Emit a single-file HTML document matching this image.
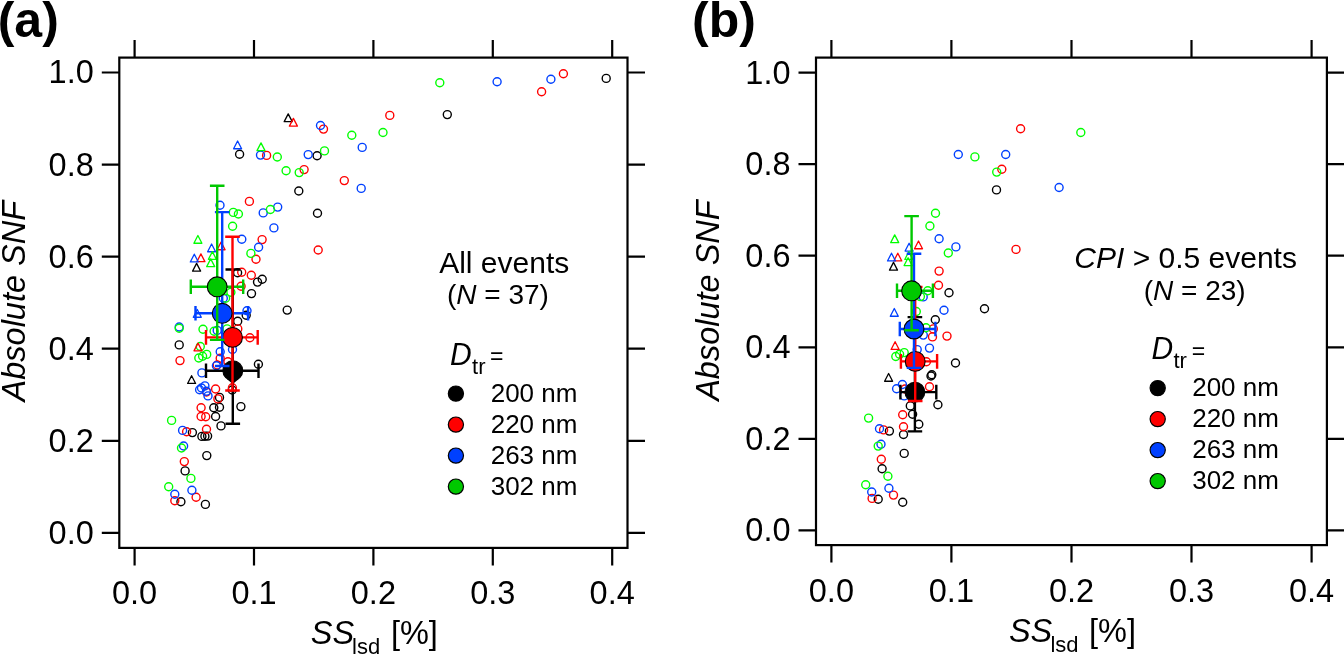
<!DOCTYPE html><html><head><meta charset="utf-8"><title>Absolute SNF vs SSlsd</title><style>html,body{margin:0;padding:0;background:#fff;width:1344px;height:654px;overflow:hidden}svg{display:block;will-change:transform}text{font-family:"Liberation Sans",sans-serif;fill:#000}.t{font-size:32.5px}.it{font-style:italic}.sub{font-size:22px;font-style:normal}.pl{font-size:50px;font-weight:bold}.l1{font-size:30px}.l2{font-size:28px}.l3{font-size:26px}.s2{font-size:22px}.eq{font-size:23px}</style></head><body>
<svg width="1344" height="654" viewBox="0 0 1344 654">
<rect width="1344" height="654" fill="#fff"/>
<circle cx="606.2" cy="78.4" r="4.0" fill="none" stroke="#000000" stroke-width="1.4"/>
<circle cx="447.3" cy="114.6" r="4.0" fill="none" stroke="#000000" stroke-width="1.4"/>
<circle cx="239.6" cy="154.3" r="4.0" fill="none" stroke="#000000" stroke-width="1.4"/>
<circle cx="317.1" cy="155.8" r="4.0" fill="none" stroke="#000000" stroke-width="1.4"/>
<circle cx="298.8" cy="191.0" r="4.0" fill="none" stroke="#000000" stroke-width="1.4"/>
<circle cx="317.5" cy="213.2" r="4.0" fill="none" stroke="#000000" stroke-width="1.4"/>
<circle cx="237.6" cy="272.8" r="4.0" fill="none" stroke="#000000" stroke-width="1.4"/>
<circle cx="262.2" cy="279.2" r="4.0" fill="none" stroke="#000000" stroke-width="1.4"/>
<circle cx="257.5" cy="282.1" r="4.0" fill="none" stroke="#000000" stroke-width="1.4"/>
<circle cx="251.5" cy="293.6" r="4.0" fill="none" stroke="#000000" stroke-width="1.4"/>
<circle cx="287.2" cy="310.1" r="4.0" fill="none" stroke="#000000" stroke-width="1.4"/>
<circle cx="246.2" cy="315.2" r="4.0" fill="none" stroke="#000000" stroke-width="1.4"/>
<circle cx="237.7" cy="321.2" r="4.0" fill="none" stroke="#000000" stroke-width="1.4"/>
<circle cx="179.2" cy="344.9" r="4.0" fill="none" stroke="#000000" stroke-width="1.4"/>
<circle cx="258.4" cy="364.2" r="4.0" fill="none" stroke="#000000" stroke-width="1.4"/>
<circle cx="232.2" cy="390.0" r="4.0" fill="none" stroke="#000000" stroke-width="1.4"/>
<circle cx="219.5" cy="397.4" r="4.0" fill="none" stroke="#000000" stroke-width="1.4"/>
<circle cx="213.8" cy="407.8" r="4.0" fill="none" stroke="#000000" stroke-width="1.4"/>
<circle cx="219.5" cy="407.3" r="4.0" fill="none" stroke="#000000" stroke-width="1.4"/>
<circle cx="240.9" cy="406.6" r="4.0" fill="none" stroke="#000000" stroke-width="1.4"/>
<circle cx="215.6" cy="416.5" r="4.0" fill="none" stroke="#000000" stroke-width="1.4"/>
<circle cx="221.0" cy="425.9" r="4.0" fill="none" stroke="#000000" stroke-width="1.4"/>
<circle cx="192.4" cy="432.6" r="4.0" fill="none" stroke="#000000" stroke-width="1.4"/>
<circle cx="201.9" cy="436.4" r="4.0" fill="none" stroke="#000000" stroke-width="1.4"/>
<circle cx="204.9" cy="436.2" r="4.0" fill="none" stroke="#000000" stroke-width="1.4"/>
<circle cx="207.6" cy="436.1" r="4.0" fill="none" stroke="#000000" stroke-width="1.4"/>
<circle cx="206.8" cy="455.6" r="4.0" fill="none" stroke="#000000" stroke-width="1.4"/>
<circle cx="185.1" cy="470.9" r="4.0" fill="none" stroke="#000000" stroke-width="1.4"/>
<circle cx="180.9" cy="501.8" r="4.0" fill="none" stroke="#000000" stroke-width="1.4"/>
<circle cx="205.4" cy="504.4" r="4.0" fill="none" stroke="#000000" stroke-width="1.4"/>
<circle cx="563.4" cy="73.8" r="4.0" fill="none" stroke="#ff0000" stroke-width="1.4"/>
<circle cx="541.6" cy="91.8" r="4.0" fill="none" stroke="#ff0000" stroke-width="1.4"/>
<circle cx="389.8" cy="115.4" r="4.0" fill="none" stroke="#ff0000" stroke-width="1.4"/>
<circle cx="323.5" cy="129.1" r="4.0" fill="none" stroke="#ff0000" stroke-width="1.4"/>
<circle cx="266.6" cy="155.4" r="4.0" fill="none" stroke="#ff0000" stroke-width="1.4"/>
<circle cx="304.1" cy="169.6" r="4.0" fill="none" stroke="#ff0000" stroke-width="1.4"/>
<circle cx="344.3" cy="180.6" r="4.0" fill="none" stroke="#ff0000" stroke-width="1.4"/>
<circle cx="249.4" cy="201.4" r="4.0" fill="none" stroke="#ff0000" stroke-width="1.4"/>
<circle cx="262.1" cy="239.6" r="4.0" fill="none" stroke="#ff0000" stroke-width="1.4"/>
<circle cx="318.2" cy="250.0" r="4.0" fill="none" stroke="#ff0000" stroke-width="1.4"/>
<circle cx="256.0" cy="259.2" r="4.0" fill="none" stroke="#ff0000" stroke-width="1.4"/>
<circle cx="241.7" cy="272.2" r="4.0" fill="none" stroke="#ff0000" stroke-width="1.4"/>
<circle cx="251.3" cy="275.3" r="4.0" fill="none" stroke="#ff0000" stroke-width="1.4"/>
<circle cx="241.1" cy="286.2" r="4.0" fill="none" stroke="#ff0000" stroke-width="1.4"/>
<circle cx="237.8" cy="328.9" r="4.0" fill="none" stroke="#ff0000" stroke-width="1.4"/>
<circle cx="249.9" cy="337.7" r="4.0" fill="none" stroke="#ff0000" stroke-width="1.4"/>
<circle cx="220.2" cy="358.3" r="4.0" fill="none" stroke="#ff0000" stroke-width="1.4"/>
<circle cx="227.9" cy="361.7" r="4.0" fill="none" stroke="#ff0000" stroke-width="1.4"/>
<circle cx="217.2" cy="365.0" r="4.0" fill="none" stroke="#ff0000" stroke-width="1.4"/>
<circle cx="180.0" cy="360.6" r="4.0" fill="none" stroke="#ff0000" stroke-width="1.4"/>
<circle cx="232.4" cy="387.8" r="4.0" fill="none" stroke="#ff0000" stroke-width="1.4"/>
<circle cx="206.5" cy="392.0" r="4.0" fill="none" stroke="#ff0000" stroke-width="1.4"/>
<circle cx="215.6" cy="389.0" r="4.0" fill="none" stroke="#ff0000" stroke-width="1.4"/>
<circle cx="217.9" cy="398.9" r="4.0" fill="none" stroke="#ff0000" stroke-width="1.4"/>
<circle cx="201.1" cy="407.8" r="4.0" fill="none" stroke="#ff0000" stroke-width="1.4"/>
<circle cx="201.1" cy="416.5" r="4.0" fill="none" stroke="#ff0000" stroke-width="1.4"/>
<circle cx="205.7" cy="416.8" r="4.0" fill="none" stroke="#ff0000" stroke-width="1.4"/>
<circle cx="206.5" cy="429.2" r="4.0" fill="none" stroke="#ff0000" stroke-width="1.4"/>
<circle cx="186.6" cy="431.7" r="4.0" fill="none" stroke="#ff0000" stroke-width="1.4"/>
<circle cx="184.3" cy="461.6" r="4.0" fill="none" stroke="#ff0000" stroke-width="1.4"/>
<circle cx="196.1" cy="497.2" r="4.0" fill="none" stroke="#ff0000" stroke-width="1.4"/>
<circle cx="174.8" cy="500.7" r="4.0" fill="none" stroke="#ff0000" stroke-width="1.4"/>
<circle cx="497.1" cy="81.8" r="4.0" fill="none" stroke="#0040ff" stroke-width="1.4"/>
<circle cx="550.9" cy="79.3" r="4.0" fill="none" stroke="#0040ff" stroke-width="1.4"/>
<circle cx="320.5" cy="125.5" r="4.0" fill="none" stroke="#0040ff" stroke-width="1.4"/>
<circle cx="260.5" cy="155.1" r="4.0" fill="none" stroke="#0040ff" stroke-width="1.4"/>
<circle cx="308.2" cy="154.6" r="4.0" fill="none" stroke="#0040ff" stroke-width="1.4"/>
<circle cx="362.2" cy="147.4" r="4.0" fill="none" stroke="#0040ff" stroke-width="1.4"/>
<circle cx="361.2" cy="188.4" r="4.0" fill="none" stroke="#0040ff" stroke-width="1.4"/>
<circle cx="220.0" cy="205.2" r="4.0" fill="none" stroke="#0040ff" stroke-width="1.4"/>
<circle cx="263.2" cy="212.9" r="4.0" fill="none" stroke="#0040ff" stroke-width="1.4"/>
<circle cx="277.7" cy="207.1" r="4.0" fill="none" stroke="#0040ff" stroke-width="1.4"/>
<circle cx="273.9" cy="227.9" r="4.0" fill="none" stroke="#0040ff" stroke-width="1.4"/>
<circle cx="241.8" cy="239.3" r="4.0" fill="none" stroke="#0040ff" stroke-width="1.4"/>
<circle cx="258.6" cy="247.3" r="4.0" fill="none" stroke="#0040ff" stroke-width="1.4"/>
<circle cx="223.3" cy="298.3" r="4.0" fill="none" stroke="#0040ff" stroke-width="1.4"/>
<circle cx="247.0" cy="310.8" r="4.0" fill="none" stroke="#0040ff" stroke-width="1.4"/>
<circle cx="179.2" cy="327.0" r="4.0" fill="none" stroke="#0040ff" stroke-width="1.4"/>
<circle cx="217.2" cy="330.4" r="4.0" fill="none" stroke="#0040ff" stroke-width="1.4"/>
<circle cx="220.2" cy="351.8" r="4.0" fill="none" stroke="#0040ff" stroke-width="1.4"/>
<circle cx="232.5" cy="349.5" r="4.0" fill="none" stroke="#0040ff" stroke-width="1.4"/>
<circle cx="216.4" cy="365.8" r="4.0" fill="none" stroke="#0040ff" stroke-width="1.4"/>
<circle cx="201.9" cy="372.9" r="4.0" fill="none" stroke="#0040ff" stroke-width="1.4"/>
<circle cx="199.6" cy="389.8" r="4.0" fill="none" stroke="#0040ff" stroke-width="1.4"/>
<circle cx="201.5" cy="388.0" r="4.0" fill="none" stroke="#0040ff" stroke-width="1.4"/>
<circle cx="204.9" cy="385.9" r="4.0" fill="none" stroke="#0040ff" stroke-width="1.4"/>
<circle cx="206.5" cy="391.3" r="4.0" fill="none" stroke="#0040ff" stroke-width="1.4"/>
<circle cx="208.0" cy="395.9" r="4.0" fill="none" stroke="#0040ff" stroke-width="1.4"/>
<circle cx="182.6" cy="430.4" r="4.0" fill="none" stroke="#0040ff" stroke-width="1.4"/>
<circle cx="183.6" cy="446.0" r="4.0" fill="none" stroke="#0040ff" stroke-width="1.4"/>
<circle cx="191.9" cy="490.3" r="4.0" fill="none" stroke="#0040ff" stroke-width="1.4"/>
<circle cx="174.8" cy="494.2" r="4.0" fill="none" stroke="#0040ff" stroke-width="1.4"/>
<circle cx="439.8" cy="82.7" r="4.0" fill="none" stroke="#00ff00" stroke-width="1.4"/>
<circle cx="383.0" cy="132.5" r="4.0" fill="none" stroke="#00ff00" stroke-width="1.4"/>
<circle cx="351.8" cy="135.2" r="4.0" fill="none" stroke="#00ff00" stroke-width="1.4"/>
<circle cx="277.3" cy="157.0" r="4.0" fill="none" stroke="#00ff00" stroke-width="1.4"/>
<circle cx="324.5" cy="150.9" r="4.0" fill="none" stroke="#00ff00" stroke-width="1.4"/>
<circle cx="286.1" cy="170.8" r="4.0" fill="none" stroke="#00ff00" stroke-width="1.4"/>
<circle cx="299.2" cy="172.6" r="4.0" fill="none" stroke="#00ff00" stroke-width="1.4"/>
<circle cx="233.3" cy="212.4" r="4.0" fill="none" stroke="#00ff00" stroke-width="1.4"/>
<circle cx="238.4" cy="214.0" r="4.0" fill="none" stroke="#00ff00" stroke-width="1.4"/>
<circle cx="270.4" cy="209.5" r="4.0" fill="none" stroke="#00ff00" stroke-width="1.4"/>
<circle cx="232.6" cy="226.3" r="4.0" fill="none" stroke="#00ff00" stroke-width="1.4"/>
<circle cx="250.9" cy="253.4" r="4.0" fill="none" stroke="#00ff00" stroke-width="1.4"/>
<circle cx="230.9" cy="292.2" r="4.0" fill="none" stroke="#00ff00" stroke-width="1.4"/>
<circle cx="225.6" cy="298.3" r="4.0" fill="none" stroke="#00ff00" stroke-width="1.4"/>
<circle cx="179.2" cy="328.3" r="4.0" fill="none" stroke="#00ff00" stroke-width="1.4"/>
<circle cx="203.0" cy="329.3" r="4.0" fill="none" stroke="#00ff00" stroke-width="1.4"/>
<circle cx="214.1" cy="331.2" r="4.0" fill="none" stroke="#00ff00" stroke-width="1.4"/>
<circle cx="227.1" cy="328.9" r="4.0" fill="none" stroke="#00ff00" stroke-width="1.4"/>
<circle cx="200.3" cy="346.5" r="4.0" fill="none" stroke="#00ff00" stroke-width="1.4"/>
<circle cx="198.8" cy="358.0" r="4.0" fill="none" stroke="#00ff00" stroke-width="1.4"/>
<circle cx="202.6" cy="356.3" r="4.0" fill="none" stroke="#00ff00" stroke-width="1.4"/>
<circle cx="206.7" cy="354.4" r="4.0" fill="none" stroke="#00ff00" stroke-width="1.4"/>
<circle cx="171.6" cy="420.4" r="4.0" fill="none" stroke="#00ff00" stroke-width="1.4"/>
<circle cx="181.5" cy="448.0" r="4.0" fill="none" stroke="#00ff00" stroke-width="1.4"/>
<circle cx="190.9" cy="478.4" r="4.0" fill="none" stroke="#00ff00" stroke-width="1.4"/>
<circle cx="168.7" cy="486.8" r="4.0" fill="none" stroke="#00ff00" stroke-width="1.4"/>
<path d="M288.20 113.90L292.20 121.65L284.20 121.65Z" fill="none" stroke="#000000" stroke-width="1.3" stroke-linejoin="round"/>
<path d="M196.60 263.40L200.60 271.15L192.60 271.15Z" fill="none" stroke="#000000" stroke-width="1.3" stroke-linejoin="round"/>
<path d="M191.60 375.70L195.60 383.45L187.60 383.45Z" fill="none" stroke="#000000" stroke-width="1.3" stroke-linejoin="round"/>
<path d="M293.40 118.40L297.40 126.15L289.40 126.15Z" fill="none" stroke="#ff0000" stroke-width="1.3" stroke-linejoin="round"/>
<path d="M221.10 242.00L225.10 249.75L217.10 249.75Z" fill="none" stroke="#ff0000" stroke-width="1.3" stroke-linejoin="round"/>
<path d="M200.90 253.90L204.90 261.65L196.90 261.65Z" fill="none" stroke="#ff0000" stroke-width="1.3" stroke-linejoin="round"/>
<path d="M198.00 343.10L202.00 350.85L194.00 350.85Z" fill="none" stroke="#ff0000" stroke-width="1.3" stroke-linejoin="round"/>
<path d="M237.60 141.00L241.60 148.75L233.60 148.75Z" fill="none" stroke="#0040ff" stroke-width="1.3" stroke-linejoin="round"/>
<path d="M211.60 244.00L215.60 251.75L207.60 251.75Z" fill="none" stroke="#0040ff" stroke-width="1.3" stroke-linejoin="round"/>
<path d="M194.30 254.20L198.30 261.95L190.30 261.95Z" fill="none" stroke="#0040ff" stroke-width="1.3" stroke-linejoin="round"/>
<path d="M197.30 309.50L201.30 317.25L193.30 317.25Z" fill="none" stroke="#0040ff" stroke-width="1.3" stroke-linejoin="round"/>
<path d="M261.00 142.90L265.00 150.65L257.00 150.65Z" fill="none" stroke="#00ff00" stroke-width="1.3" stroke-linejoin="round"/>
<path d="M197.90 235.50L201.90 243.25L193.90 243.25Z" fill="none" stroke="#00ff00" stroke-width="1.3" stroke-linejoin="round"/>
<path d="M212.40 251.60L216.40 259.35L208.40 259.35Z" fill="none" stroke="#00ff00" stroke-width="1.3" stroke-linejoin="round"/>
<path d="M210.70 258.90L214.70 266.65L206.70 266.65Z" fill="none" stroke="#00ff00" stroke-width="1.3" stroke-linejoin="round"/>
<path d="M206.0 370.7H258.5M206.0 363.4V378.0M258.5 363.4V378.0" stroke="#000000" stroke-width="2.4" fill="none"/>
<path d="M206.0 337.4H257.7M206.0 330.1V344.7M257.7 330.1V344.7" stroke="#ff0000" stroke-width="2.4" fill="none"/>
<path d="M195.5 313.3H248.1M195.5 306.0V320.6M248.1 306.0V320.6" stroke="#0040ff" stroke-width="2.4" fill="none"/>
<path d="M190.8 286.8H243.2M190.8 279.5V294.1M243.2 279.5V294.1" stroke="#00c800" stroke-width="2.4" fill="none"/>
<path d="M232.8 269.5V423.7M225.5 269.5H240.1M225.5 423.7H240.1" stroke="#000000" stroke-width="2.4" fill="none"/>
<circle cx="232.8" cy="370.7" r="9.9" fill="#000000" stroke="#000" stroke-width="1.1"/>
<path d="M226.8 379.0L238.8 379.0L232.8 384.1Z" fill="#000"/>
<path d="M232.5 236.7V390.5M225.2 236.7H239.8M225.2 390.5H239.8" stroke="#ff0000" stroke-width="2.4" fill="none"/>
<circle cx="232.5" cy="337.4" r="9.9" fill="#ff0000" stroke="#000" stroke-width="1.1"/>
<path d="M222.2 212.1V366.0M214.9 212.1H229.5M214.9 366.0H229.5" stroke="#0040ff" stroke-width="2.4" fill="none"/>
<circle cx="222.2" cy="313.3" r="9.9" fill="#0040ff" stroke="#000" stroke-width="1.1"/>
<path d="M217.2 185.8V339.9M209.9 185.8H224.5M209.9 339.9H224.5" stroke="#00c800" stroke-width="2.4" fill="none"/>
<circle cx="217.2" cy="286.8" r="9.9" fill="#00c800" stroke="#000" stroke-width="1.1"/>
<rect x="119.3" y="57.6" width="508.2" height="490.3" fill="none" stroke="#000" stroke-width="2.2"/>
<path d="M134.6 547.9v17.5M134.6 57.6v-17.5M254.0 547.9v17.5M254.0 57.6v-17.5M373.4 547.9v17.5M373.4 57.6v-17.5M492.8 547.9v17.5M492.8 57.6v-17.5M612.2 547.9v17.5M612.2 57.6v-17.5M119.3 532.9h-17.5M627.5 532.9h17.5M119.3 440.8h-17.5M627.5 440.8h17.5M119.3 348.7h-17.5M627.5 348.7h17.5M119.3 256.7h-17.5M627.5 256.7h17.5M119.3 164.6h-17.5M627.5 164.6h17.5M119.3 72.5h-17.5M627.5 72.5h17.5" stroke="#000" stroke-width="2.2" fill="none"/>
<text x="134.6" y="603.8" class="t" text-anchor="middle">0.0</text>
<text x="254.0" y="603.8" class="t" text-anchor="middle">0.1</text>
<text x="373.4" y="603.8" class="t" text-anchor="middle">0.2</text>
<text x="492.8" y="603.8" class="t" text-anchor="middle">0.3</text>
<text x="612.2" y="603.8" class="t" text-anchor="middle">0.4</text>
<text x="93.8" y="543.8" class="t" text-anchor="end">0.0</text>
<text x="93.8" y="451.7" class="t" text-anchor="end">0.2</text>
<text x="93.8" y="359.6" class="t" text-anchor="end">0.4</text>
<text x="93.8" y="267.6" class="t" text-anchor="end">0.6</text>
<text x="93.8" y="175.5" class="t" text-anchor="end">0.8</text>
<text x="93.8" y="83.4" class="t" text-anchor="end">1.0</text>
<text transform="translate(25.0,301.2) rotate(-90)" class="t it" text-anchor="middle">Absolute SNF</text>
<text transform="translate(310.8,644.0) scale(1,1.04)" class="t it">SS</text>
<text x="352.1" y="653.7" class="sub">lsd</text>
<text x="390.9" y="644.0" class="t">[%]</text>
<text x="-2.3" y="37.2" class="pl">(a)</text>
<circle cx="996.5" cy="189.9" r="4.0" fill="none" stroke="#000000" stroke-width="1.4"/>
<circle cx="949.0" cy="292.8" r="4.0" fill="none" stroke="#000000" stroke-width="1.4"/>
<circle cx="984.5" cy="308.7" r="4.0" fill="none" stroke="#000000" stroke-width="1.4"/>
<circle cx="935.3" cy="319.8" r="4.0" fill="none" stroke="#000000" stroke-width="1.4"/>
<circle cx="955.5" cy="363.0" r="4.0" fill="none" stroke="#000000" stroke-width="1.4"/>
<circle cx="931.0" cy="376.0" r="4.0" fill="none" stroke="#000000" stroke-width="1.4"/>
<circle cx="931.8" cy="374.8" r="4.0" fill="none" stroke="#000000" stroke-width="1.4"/>
<circle cx="937.9" cy="404.7" r="4.0" fill="none" stroke="#000000" stroke-width="1.4"/>
<circle cx="910.3" cy="405.9" r="4.0" fill="none" stroke="#000000" stroke-width="1.4"/>
<circle cx="912.6" cy="414.3" r="4.0" fill="none" stroke="#000000" stroke-width="1.4"/>
<circle cx="918.8" cy="424.2" r="4.0" fill="none" stroke="#000000" stroke-width="1.4"/>
<circle cx="889.4" cy="431.1" r="4.0" fill="none" stroke="#000000" stroke-width="1.4"/>
<circle cx="903.5" cy="434.5" r="4.0" fill="none" stroke="#000000" stroke-width="1.4"/>
<circle cx="904.2" cy="453.4" r="4.0" fill="none" stroke="#000000" stroke-width="1.4"/>
<circle cx="882.1" cy="468.8" r="4.0" fill="none" stroke="#000000" stroke-width="1.4"/>
<circle cx="878.2" cy="499.3" r="4.0" fill="none" stroke="#000000" stroke-width="1.4"/>
<circle cx="902.7" cy="502.2" r="4.0" fill="none" stroke="#000000" stroke-width="1.4"/>
<circle cx="1020.6" cy="128.8" r="4.0" fill="none" stroke="#ff0000" stroke-width="1.4"/>
<circle cx="1001.8" cy="169.2" r="4.0" fill="none" stroke="#ff0000" stroke-width="1.4"/>
<circle cx="1016.0" cy="249.4" r="4.0" fill="none" stroke="#ff0000" stroke-width="1.4"/>
<circle cx="939.1" cy="271.1" r="4.0" fill="none" stroke="#ff0000" stroke-width="1.4"/>
<circle cx="938.5" cy="285.2" r="4.0" fill="none" stroke="#ff0000" stroke-width="1.4"/>
<circle cx="933.3" cy="328.9" r="4.0" fill="none" stroke="#ff0000" stroke-width="1.4"/>
<circle cx="932.5" cy="336.9" r="4.0" fill="none" stroke="#ff0000" stroke-width="1.4"/>
<circle cx="947.0" cy="336.1" r="4.0" fill="none" stroke="#ff0000" stroke-width="1.4"/>
<circle cx="926.4" cy="361.8" r="4.0" fill="none" stroke="#ff0000" stroke-width="1.4"/>
<circle cx="929.5" cy="386.8" r="4.0" fill="none" stroke="#ff0000" stroke-width="1.4"/>
<circle cx="905.0" cy="389.0" r="4.0" fill="none" stroke="#ff0000" stroke-width="1.4"/>
<circle cx="902.7" cy="414.7" r="4.0" fill="none" stroke="#ff0000" stroke-width="1.4"/>
<circle cx="903.5" cy="426.8" r="4.0" fill="none" stroke="#ff0000" stroke-width="1.4"/>
<circle cx="883.6" cy="429.9" r="4.0" fill="none" stroke="#ff0000" stroke-width="1.4"/>
<circle cx="881.3" cy="459.2" r="4.0" fill="none" stroke="#ff0000" stroke-width="1.4"/>
<circle cx="893.5" cy="495.1" r="4.0" fill="none" stroke="#ff0000" stroke-width="1.4"/>
<circle cx="872.1" cy="498.4" r="4.0" fill="none" stroke="#ff0000" stroke-width="1.4"/>
<circle cx="958.3" cy="154.5" r="4.0" fill="none" stroke="#0040ff" stroke-width="1.4"/>
<circle cx="1005.7" cy="154.5" r="4.0" fill="none" stroke="#0040ff" stroke-width="1.4"/>
<circle cx="1059.1" cy="187.5" r="4.0" fill="none" stroke="#0040ff" stroke-width="1.4"/>
<circle cx="939.1" cy="238.7" r="4.0" fill="none" stroke="#0040ff" stroke-width="1.4"/>
<circle cx="955.9" cy="246.9" r="4.0" fill="none" stroke="#0040ff" stroke-width="1.4"/>
<circle cx="923.2" cy="296.9" r="4.0" fill="none" stroke="#0040ff" stroke-width="1.4"/>
<circle cx="944.0" cy="310.2" r="4.0" fill="none" stroke="#0040ff" stroke-width="1.4"/>
<circle cx="923.3" cy="335.1" r="4.0" fill="none" stroke="#0040ff" stroke-width="1.4"/>
<circle cx="917.2" cy="349.6" r="4.0" fill="none" stroke="#0040ff" stroke-width="1.4"/>
<circle cx="929.5" cy="348.1" r="4.0" fill="none" stroke="#0040ff" stroke-width="1.4"/>
<circle cx="902.4" cy="384.5" r="4.0" fill="none" stroke="#0040ff" stroke-width="1.4"/>
<circle cx="896.6" cy="388.8" r="4.0" fill="none" stroke="#0040ff" stroke-width="1.4"/>
<circle cx="904.2" cy="395.9" r="4.0" fill="none" stroke="#0040ff" stroke-width="1.4"/>
<circle cx="879.5" cy="428.8" r="4.0" fill="none" stroke="#0040ff" stroke-width="1.4"/>
<circle cx="881.0" cy="444.2" r="4.0" fill="none" stroke="#0040ff" stroke-width="1.4"/>
<circle cx="888.9" cy="488.2" r="4.0" fill="none" stroke="#0040ff" stroke-width="1.4"/>
<circle cx="871.7" cy="492.0" r="4.0" fill="none" stroke="#0040ff" stroke-width="1.4"/>
<circle cx="1080.8" cy="132.5" r="4.0" fill="none" stroke="#00ff00" stroke-width="1.4"/>
<circle cx="974.9" cy="156.9" r="4.0" fill="none" stroke="#00ff00" stroke-width="1.4"/>
<circle cx="996.7" cy="172.1" r="4.0" fill="none" stroke="#00ff00" stroke-width="1.4"/>
<circle cx="935.5" cy="213.3" r="4.0" fill="none" stroke="#00ff00" stroke-width="1.4"/>
<circle cx="929.9" cy="226.0" r="4.0" fill="none" stroke="#00ff00" stroke-width="1.4"/>
<circle cx="948.3" cy="253.0" r="4.0" fill="none" stroke="#00ff00" stroke-width="1.4"/>
<circle cx="927.8" cy="290.8" r="4.0" fill="none" stroke="#00ff00" stroke-width="1.4"/>
<circle cx="920.4" cy="296.6" r="4.0" fill="none" stroke="#00ff00" stroke-width="1.4"/>
<circle cx="916.3" cy="311.5" r="4.0" fill="none" stroke="#00ff00" stroke-width="1.4"/>
<circle cx="926.0" cy="327.8" r="4.0" fill="none" stroke="#00ff00" stroke-width="1.4"/>
<circle cx="895.8" cy="356.5" r="4.0" fill="none" stroke="#00ff00" stroke-width="1.4"/>
<circle cx="899.6" cy="354.2" r="4.0" fill="none" stroke="#00ff00" stroke-width="1.4"/>
<circle cx="904.2" cy="352.6" r="4.0" fill="none" stroke="#00ff00" stroke-width="1.4"/>
<circle cx="868.6" cy="418.1" r="4.0" fill="none" stroke="#00ff00" stroke-width="1.4"/>
<circle cx="878.2" cy="446.1" r="4.0" fill="none" stroke="#00ff00" stroke-width="1.4"/>
<circle cx="887.9" cy="476.2" r="4.0" fill="none" stroke="#00ff00" stroke-width="1.4"/>
<circle cx="865.7" cy="484.8" r="4.0" fill="none" stroke="#00ff00" stroke-width="1.4"/>
<path d="M893.50 262.40L897.50 270.15L889.50 270.15Z" fill="none" stroke="#000000" stroke-width="1.3" stroke-linejoin="round"/>
<path d="M888.60 373.50L892.60 381.25L884.60 381.25Z" fill="none" stroke="#000000" stroke-width="1.3" stroke-linejoin="round"/>
<path d="M918.50 241.00L922.50 248.75L914.50 248.75Z" fill="none" stroke="#ff0000" stroke-width="1.3" stroke-linejoin="round"/>
<path d="M897.80 253.20L901.80 260.95L893.80 260.95Z" fill="none" stroke="#ff0000" stroke-width="1.3" stroke-linejoin="round"/>
<path d="M895.10 341.70L899.10 349.45L891.10 349.45Z" fill="none" stroke="#ff0000" stroke-width="1.3" stroke-linejoin="round"/>
<path d="M909.10 243.30L913.10 251.05L905.10 251.05Z" fill="none" stroke="#0040ff" stroke-width="1.3" stroke-linejoin="round"/>
<path d="M891.50 253.20L895.50 260.95L887.50 260.95Z" fill="none" stroke="#0040ff" stroke-width="1.3" stroke-linejoin="round"/>
<path d="M894.30 308.50L898.30 316.25L890.30 316.25Z" fill="none" stroke="#0040ff" stroke-width="1.3" stroke-linejoin="round"/>
<path d="M894.70 234.90L898.70 242.65L890.70 242.65Z" fill="none" stroke="#00ff00" stroke-width="1.3" stroke-linejoin="round"/>
<path d="M908.80 251.70L912.80 259.45L904.80 259.45Z" fill="none" stroke="#00ff00" stroke-width="1.3" stroke-linejoin="round"/>
<path d="M908.10 257.80L912.10 265.55L904.10 265.55Z" fill="none" stroke="#00ff00" stroke-width="1.3" stroke-linejoin="round"/>
<path d="M900.4 392.1H936.3M900.4 384.8V399.4M936.3 384.8V399.4" stroke="#000000" stroke-width="2.4" fill="none"/>
<path d="M900.9 361.4H937.1M900.9 354.1V368.7M937.1 354.1V368.7" stroke="#ff0000" stroke-width="2.4" fill="none"/>
<path d="M899.8 329.0H935.4M899.8 321.7V336.3M935.4 321.7V336.3" stroke="#0040ff" stroke-width="2.4" fill="none"/>
<path d="M897.0 290.8H932.9M897.0 283.5V298.1M932.9 283.5V298.1" stroke="#00c800" stroke-width="2.4" fill="none"/>
<path d="M914.9 317.1V431.4M907.6 317.1H922.2M907.6 431.4H922.2" stroke="#000000" stroke-width="2.4" fill="none"/>
<circle cx="914.9" cy="392.1" r="9.9" fill="#000000" stroke="#000" stroke-width="1.1"/>
<path d="M915.2 287.0V401.0M907.9 287.0H922.5M907.9 401.0H922.5" stroke="#ff0000" stroke-width="2.4" fill="none"/>
<circle cx="915.2" cy="361.4" r="9.9" fill="#ff0000" stroke="#000" stroke-width="1.1"/>
<path d="M914.0 253.8V367.9M906.7 253.8H921.3M906.7 367.9H921.3" stroke="#0040ff" stroke-width="2.4" fill="none"/>
<circle cx="914.0" cy="329.0" r="9.9" fill="#0040ff" stroke="#000" stroke-width="1.1"/>
<path d="M911.6 216.1V330.3M904.3 216.1H918.9M904.3 330.3H918.9" stroke="#00c800" stroke-width="2.4" fill="none"/>
<circle cx="911.6" cy="290.8" r="9.9" fill="#00c800" stroke="#000" stroke-width="1.1"/>
<rect x="816.0" y="57.6" width="510.9" height="487.5" fill="none" stroke="#000" stroke-width="2.2"/>
<path d="M831.4 545.1v17.5M831.4 57.6v-17.5M951.4 545.1v17.5M951.4 57.6v-17.5M1071.5 545.1v17.5M1071.5 57.6v-17.5M1191.5 545.1v17.5M1191.5 57.6v-17.5M1311.6 545.1v17.5M1311.6 57.6v-17.5M816.0 530.3h-17.5M1326.9 530.3h17.5M816.0 438.8h-17.5M1326.9 438.8h17.5M816.0 347.3h-17.5M1326.9 347.3h17.5M816.0 255.7h-17.5M1326.9 255.7h17.5M816.0 164.2h-17.5M1326.9 164.2h17.5M816.0 72.7h-17.5M1326.9 72.7h17.5" stroke="#000" stroke-width="2.2" fill="none"/>
<text x="831.4" y="601.6" class="t" text-anchor="middle">0.0</text>
<text x="951.4" y="601.6" class="t" text-anchor="middle">0.1</text>
<text x="1071.5" y="601.6" class="t" text-anchor="middle">0.2</text>
<text x="1191.5" y="601.6" class="t" text-anchor="middle">0.3</text>
<text x="1311.6" y="601.6" class="t" text-anchor="middle">0.4</text>
<text x="790.5" y="541.2" class="t" text-anchor="end">0.0</text>
<text x="790.5" y="449.7" class="t" text-anchor="end">0.2</text>
<text x="790.5" y="358.2" class="t" text-anchor="end">0.4</text>
<text x="790.5" y="266.6" class="t" text-anchor="end">0.6</text>
<text x="790.5" y="175.1" class="t" text-anchor="end">0.8</text>
<text x="790.5" y="83.6" class="t" text-anchor="end">1.0</text>
<text transform="translate(719.2,300.6) rotate(-90)" class="t it" text-anchor="middle">Absolute SNF</text>
<text transform="translate(1008.9,642.1) scale(1,1.04)" class="t it">SS</text>
<text x="1050.4" y="651.6" class="sub">lsd</text>
<text x="1089.0" y="642.1" class="t">[%]</text>
<text x="692.0" y="36.8" class="pl">(b)</text>
<text x="439.2" y="273.0" class="l1">All events</text>
<text x="447.0" y="304.3" class="l2">(<tspan class="it">N</tspan> = 37)</text>
<text transform="translate(450.0,364.9) scale(1,1.05)" class="l1 it">D</text><text x="472.1" y="373.6" class="s2">tr</text><text x="490.1" y="363.9" class="eq">=</text>
<circle cx="455.9" cy="393.6" r="7.6" fill="#000000" stroke="#000" stroke-width="1.2"/>
<text x="490.7" y="401.6" class="l3">200 nm</text>
<circle cx="455.9" cy="424.6" r="7.6" fill="#ff0000" stroke="#000" stroke-width="1.2"/>
<text x="490.7" y="432.6" class="l3">220 nm</text>
<circle cx="455.9" cy="455.6" r="7.6" fill="#0040ff" stroke="#000" stroke-width="1.2"/>
<text x="490.7" y="463.6" class="l3">263 nm</text>
<circle cx="455.9" cy="486.6" r="7.6" fill="#00c800" stroke="#000" stroke-width="1.2"/>
<text x="490.7" y="494.6" class="l3">302 nm</text>
<text x="1074.3" y="268.2" class="l1"><tspan class="it">CPI</tspan> &gt; 0.5 events</text>
<text x="1143.7" y="300.0" class="l2">(<tspan class="it">N</tspan> = 23)</text>
<text transform="translate(1151.4,359.4) scale(1,1.05)" class="l1 it">D</text><text x="1173.4" y="368.4" class="s2">tr</text><text x="1191.8" y="358.7" class="eq">=</text>
<circle cx="1157.7" cy="388.1" r="7.6" fill="#000000" stroke="#000" stroke-width="1.2"/>
<text x="1192.2" y="396.1" class="l3">200 nm</text>
<circle cx="1157.7" cy="419.1" r="7.6" fill="#ff0000" stroke="#000" stroke-width="1.2"/>
<text x="1192.2" y="427.1" class="l3">220 nm</text>
<circle cx="1157.7" cy="450.1" r="7.6" fill="#0040ff" stroke="#000" stroke-width="1.2"/>
<text x="1192.2" y="458.1" class="l3">263 nm</text>
<circle cx="1157.7" cy="481.1" r="7.6" fill="#00c800" stroke="#000" stroke-width="1.2"/>
<text x="1192.2" y="489.1" class="l3">302 nm</text>
</svg></body></html>
